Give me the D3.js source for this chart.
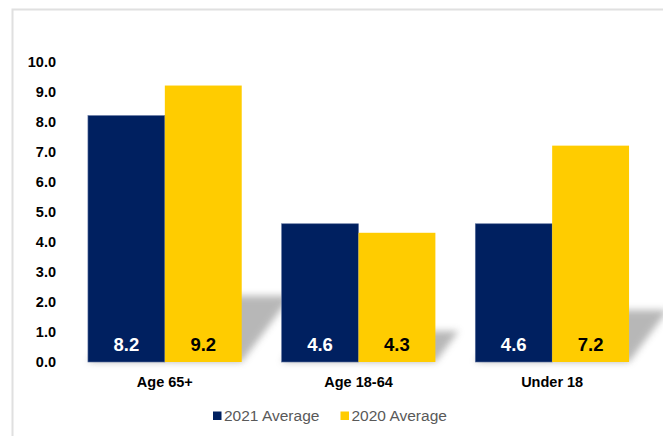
<!DOCTYPE html>
<html>
<head>
<meta charset="utf-8">
<script src="https://cdn.jsdelivr.net/npm/d3@7"></script>
<style>
  html, body { margin: 0; padding: 0; background: #fff; }
  svg { display: block; font-family: "Liberation Sans", Arial, sans-serif; }
</style>
</head>
<body>
<svg id="chart" width="663" height="436"></svg>
<script>
// Average values by age group, two years side by side
const categories = ["Age 65+", "Age 18-64", "Under 18"];
const seriesNames = ["2021 Average", "2020 Average"];
const values2021 = [8.2, 4.6, 4.6];
const values2020 = [9.2, 4.3, 7.2];
const yTicks = [0, 1, 2, 3, 4, 5, 6, 7, 8, 9, 10];

const colors = { "2021 Average": "#002060", "2020 Average": "#FFCC00" };
const labelColors = { "2021 Average": "#ffffff", "2020 Average": "#000000" };

const rows = categories.map((c, i) => ({
  category: c,
  values: [
    { series: seriesNames[0], value: values2021[i] },
    { series: seriesNames[1], value: values2020[i] }
  ]
}));

const svg = d3.select("#chart");
const W = 663, H = 436;

// Outer frame of the chart area
svg.append("path")
  .attr("d", `M12.5,${H + 5} L12.5,9.5 L${W + 5},9.5`)
  .attr("fill", "none")
  .attr("stroke", "#e0e0e0")
  .attr("stroke-width", 2);

const plot = { left: 68, right: 649, top: 61.5, bottom: 362 };

const x0 = d3.scaleBand()
  .domain(categories)
  .range([plot.left, plot.right])
  .paddingInner(0.206)
  .paddingOuter(0.103);

const x1 = d3.scaleBand()
  .domain(seriesNames)
  .range([0, x0.bandwidth()])
  .padding(0);

const y = d3.scaleLinear()
  .domain([0, 10])
  .range([plot.bottom, plot.top]);

// Soft perspective shadow cast behind the bars
const defs = svg.append("defs");
defs.append("filter")
  .attr("id", "shadowBlur")
  .attr("x", "-50%").attr("y", "-50%")
  .attr("width", "200%").attr("height", "200%")
  .append("feGaussianBlur")
  .attr("stdDeviation", 3.5);

const shadowLayer = svg.append("g")
  .attr("filter", "url(#shadowBlur)")
  .attr("opacity", 0.7);

rows.forEach(r => {
  r.values.forEach(v => {
    const bx = x0(r.category) + x1(v.series);
    const bw = x1.bandwidth();
    const h = y(0) - y(v.value);
    const hs = h * 0.24;
    const dx = hs * 0.75;
    shadowLayer.append("polygon")
      .attr("points", [
        [bx, y(0)],
        [bx + bw, y(0)],
        [bx + bw + dx, y(0) - hs],
        [bx + dx, y(0) - hs]
      ].map(p => p.join(",")).join(" "))
      .attr("fill", "#9a9a9a");
  });
});

// Y axis tick labels
const yAxis = d3.axisLeft(y)
  .tickValues(yTicks)
  .tickFormat(d3.format(".1f"))
  .tickSize(0)
  .tickPadding(0);

const yg = svg.append("g")
  .attr("transform", `translate(56,0)`)
  .call(yAxis);
yg.select(".domain").remove();
yg.selectAll("text")
  .attr("font-size", 14.5)
  .attr("font-weight", "bold")
  .attr("fill", "#000")
  .attr("font-family", "Liberation Sans, Arial, sans-serif");

// Bars
const groups = svg.append("g").selectAll("g")
  .data(rows)
  .join("g")
  .attr("transform", d => `translate(${x0(d.category)},0)`);

groups.selectAll("rect")
  .data(d => d.values)
  .join("rect")
  .attr("x", d => x1(d.series))
  .attr("y", d => y(d.value))
  .attr("width", x1.bandwidth())
  .attr("height", d => y(0) - y(d.value))
  .attr("fill", d => colors[d.series])
  .attr("stroke", d => d.series === seriesNames[0] ? "#5a6f9c" : "none")
  .attr("stroke-width", 0.6);

// Value labels at the foot of each bar
groups.selectAll("text.val")
  .data(d => d.values)
  .join("text")
  .attr("class", "val")
  .attr("x", d => x1(d.series) + x1.bandwidth() / 2)
  .attr("y", y(0) - 11)
  .attr("text-anchor", "middle")
  .attr("font-size", 18.5)
  .attr("font-weight", "bold")
  .attr("fill", d => labelColors[d.series])
  .text(d => d3.format(".1f")(d.value));

// Category axis labels
const xAxis = d3.axisBottom(x0).tickSize(0).tickPadding(0);
const xg = svg.append("g")
  .attr("transform", `translate(0,${plot.bottom + 25})`)
  .call(xAxis);
xg.select(".domain").remove();
xg.selectAll("text")
  .attr("dy", 0)
  .attr("font-size", 14.5)
  .attr("font-weight", "bold")
  .attr("fill", "#000")
  .attr("font-family", "Liberation Sans, Arial, sans-serif");

// Legend
const legendX = [213, 340.5];
const legend = svg.append("g");
seriesNames.forEach((s, i) => {
  legend.append("rect")
    .attr("x", legendX[i])
    .attr("y", 411.5)
    .attr("width", 8.5)
    .attr("height", 8.5)
    .attr("fill", colors[s]);
  legend.append("text")
    .attr("x", legendX[i] + 11)
    .attr("y", 420.5)
    .attr("font-size", 15.5)
    .attr("fill", "#595959")
    .text(s);
});
</script>
</body>
</html>
